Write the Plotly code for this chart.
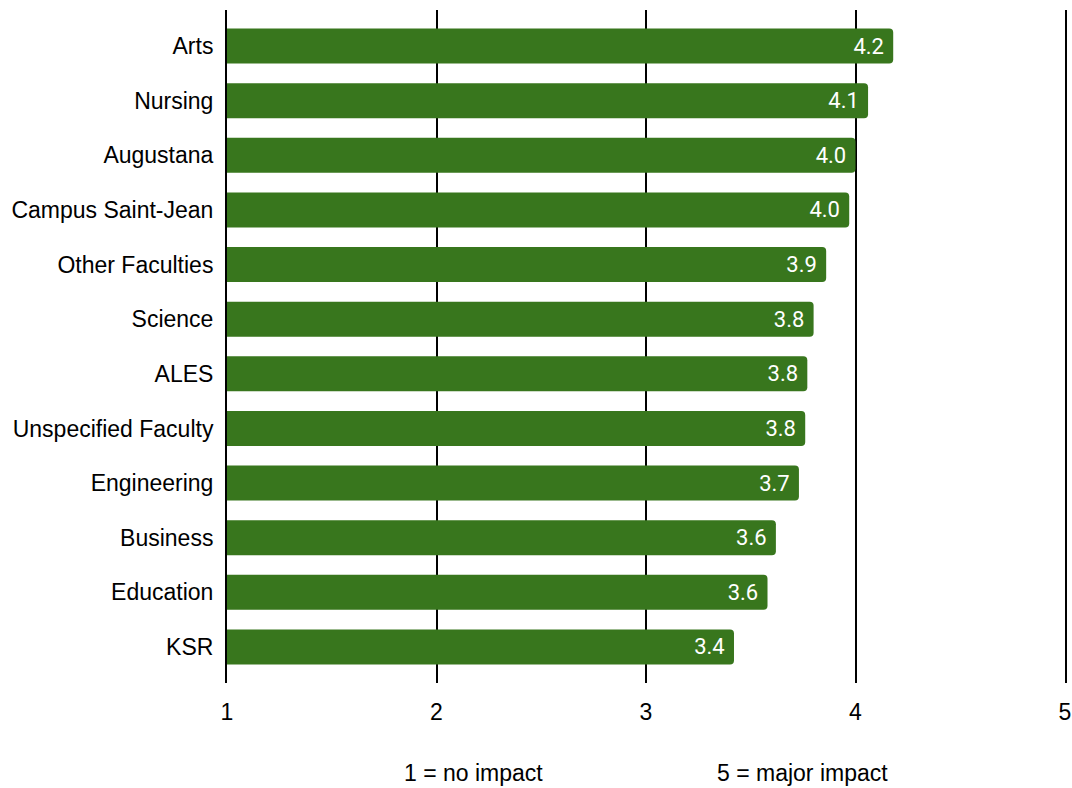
import plotly.graph_objects as go

faculties = ["Arts", "Nursing", "Augustana", "Campus Saint-Jean", "Other Faculties",
             "Science", "ALES", "Unspecified Faculty", "Engineering", "Business",
             "Education", "KSR"]
scores = [4.18, 4.06, 4.00, 3.97, 3.86, 3.80, 3.77, 3.76, 3.73, 3.62, 3.58, 3.42]
x_ticks = [1, 2, 3, 4, 5]
scale_notes = ["1 = no impact", "5 = major impact"]

fig = go.Figure(go.Bar(
    x=scores, y=faculties, orientation="h",
    marker=dict(color="#38761d", line=dict(width=0)),
    texttemplate="%{x:.1f}\u00a0", textposition="inside", insidetextanchor="end",
    textfont=dict(family="Roboto", size=22, color="white"),
    cliponaxis=False, hoverinfo="skip",
))

fig.update_layout(
    width=1072, height=788,
    margin=dict(l=227, r=7, t=10, b=105, autoexpand=False),
    paper_bgcolor="white", plot_bgcolor="white",
    bargap=0.36, barcornerradius=4,
    showlegend=False,
    font=dict(family="Liberation Sans, Arial", size=23, color="#000"),
)
fig.update_xaxes(
    range=[1, 5], tickvals=x_ticks, showgrid=True, gridcolor="#000", gridwidth=2,
    zeroline=False, showline=False, ticks="", ticklabelstandoff=13,
    tickfont=dict(size=23, color="#000"), automargin=False,
)
fig.update_yaxes(
    type="category", categoryorder="array", categoryarray=faculties,
    range=[len(faculties) - 1 + 0.66, -0.66], showgrid=False, ticks="",
    showline=True, linecolor="#000", linewidth=2, mirror=True, layer="below traces",
    ticklabelstandoff=7, tickfont=dict(size=23, color="#000"), automargin=False,
)
for xpos, note in zip([0.2936, 0.687], scale_notes):
    fig.add_annotation(text=note, xref="paper", yref="paper", x=xpos, y=-0.1337,
                       xanchor="center", yanchor="middle", showarrow=False,
                       font=dict(size=23, color="#000"))

fig.write_html("out.html", config={"displayModeBar": False},
               post_script="document.body.style.margin='0';document.body.style.overflow='hidden';")
